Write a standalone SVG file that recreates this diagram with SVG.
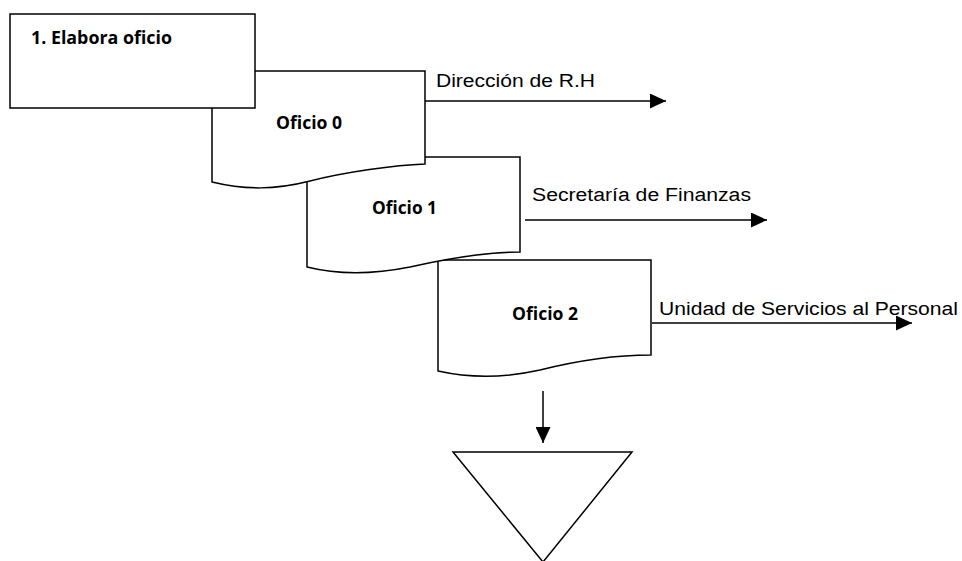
<svg xmlns="http://www.w3.org/2000/svg" width="962" height="561" viewBox="0 0 962 561">
<defs>
<marker id="ah" markerUnits="userSpaceOnUse" markerWidth="16" markerHeight="15" refX="16" refY="7.5" orient="auto">
<path d="M0,0 L16,7.5 L0,15 z" fill="#000"/>
</marker>
<style>
.shape{fill:#fff;stroke:#000;stroke-width:1.5;stroke-linejoin:miter}
.conn{stroke:#000;stroke-width:1.5;fill:none}
.bold{font-family:"Open Sans","Liberation Sans",sans-serif;font-weight:bold;font-size:17px;fill:#000}
.lbl{font-family:"Liberation Sans",Arial,sans-serif;font-size:18px;fill:#000}
</style>
</defs>
<rect width="962" height="561" fill="#fff"/>
<g id="oficio2">
<path class="shape" d="M438,260 L651,260 L651,355 C620,355 580,360 540,370 C500,379 465,377 438,371 Z"/>
<text class="bold" x="512" y="320" textLength="66" lengthAdjust="spacingAndGlyphs">Oficio 2</text>
</g>
<g id="oficio1">
<path class="shape" d="M307,157 L520,157 L520,252 C490,252 450,258 410,267 C370,275 335,274 307,267 Z"/>
<text class="bold" x="372" y="214" textLength="65" lengthAdjust="spacingAndGlyphs">Oficio 1</text>
</g>
<g id="oficio0">
<path class="shape" d="M212,71 L425,71 L425,164 C395,165 345,172 310,181 C275,190 245,190 212,182 Z"/>
<text class="bold" x="276" y="129" textLength="66" lengthAdjust="spacingAndGlyphs">Oficio 0</text>
</g>
<g id="elabora">
<rect class="shape" x="10" y="14" width="245" height="94"/>
<text class="bold" x="31" y="44" textLength="141" lengthAdjust="spacingAndGlyphs">1. Elabora oficio</text>
</g>
<g id="archivo">
<path class="shape" d="M453,452 L632,452 L543,562 Z"/>
</g>
<g id="connectors">
<line class="conn" x1="425" y1="101" x2="666" y2="101" marker-end="url(#ah)"/>
<line class="conn" x1="525" y1="220" x2="767" y2="220" marker-end="url(#ah)"/>
<line class="conn" x1="652" y1="323" x2="912" y2="323" marker-end="url(#ah)"/>
<line class="conn" x1="543" y1="391" x2="543" y2="443" marker-end="url(#ah)"/>
<text class="lbl" x="436" y="87" textLength="159" lengthAdjust="spacingAndGlyphs">Dirección de R.H</text>
<text class="lbl" x="532" y="201" textLength="219" lengthAdjust="spacingAndGlyphs">Secretaría de Finanzas</text>
<text class="lbl" x="659" y="315" textLength="299" lengthAdjust="spacingAndGlyphs">Unidad de Servicios al Personal</text>
</g>
</svg>
